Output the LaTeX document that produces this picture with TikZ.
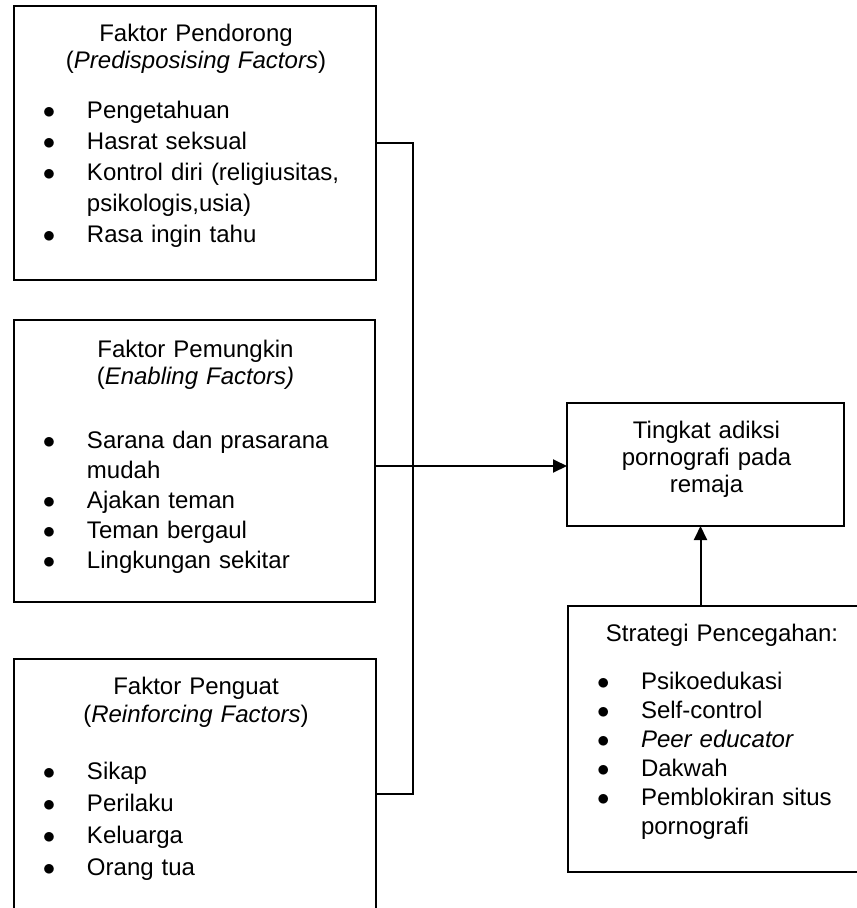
\documentclass[tikz,border=0pt]{standalone}
\usepackage{fontspec}
\setmainfont{Liberation Sans}
\usetikzlibrary{arrows.meta}

\newcommand{\judul}[1]{{\centering\rule{0pt}{20pt}#1\par}}
\newcommand{\jarak}[1]{\fontsize{24}{#1}\selectfont}
\newcommand{\butir}[1]{\par\noindent\hangindent=72pt\hangafter=1\makebox[72pt][l]{\hspace{28pt}$\bullet$}#1\par}

\begin{document}
\begin{tikzpicture}[
  x=1pt, y=1pt, line width=2pt,
  kotak/.style={draw,rectangle,inner sep=0pt,outer sep=0pt,anchor=north west},
  isi/.style={inner sep=0pt,anchor=north west,align=left,font=\jarak{27}},
  panah/.style={-{Triangle[length=14pt,width=13pt]}}
]
  \useasboundingbox (0,0) rectangle (857,-908);
  \clip (0,0) rectangle (857,-908);

  \node[kotak,minimum width=362pt,minimum height=274pt] (pendorong) at (14,-6) {};
  \node[kotak,minimum width=361pt,minimum height=282pt] (pemungkin) at (14,-320) {};
  \node[kotak,minimum width=362pt,minimum height=270pt] (penguat) at (14,-659) {};
  \node[kotak,minimum width=277pt,minimum height=123pt] (tingkat) at (567,-403) {};
  \node[kotak,minimum width=306pt,minimum height=266pt] (strategi) at (568,-606) {};

  \node[isi,text width=362pt] (pendorongIsi) at ([yshift=-14pt]pendorong.north west) {%
    \judul{Faktor Pendorong\\(\textit{Predisposising Factors})}\vspace{19pt}\jarak{31}%
    \butir{Pengetahuan}\butir{Hasrat seksual}%
    \butir{Kontrol diri (religiusitas,\newline psikologis,usia)}\butir{Rasa ingin tahu}};
  \node[isi,text width=361pt] (pemungkinIsi) at ([yshift=-16pt]pemungkin.north west) {%
    \judul{Faktor Pemungkin\\(\textit{Enabling Factors)}}\vspace{34pt}\jarak{30}%
    \butir{Sarana dan prasarana\newline mudah}\butir{Ajakan teman}%
    \butir{Teman bergaul}\butir{Lingkungan sekitar}};
  \node[isi,text width=362pt,font=\jarak{28}] (penguatIsi) at ([yshift=-14pt]penguat.north west) {%
    \judul{Faktor Penguat\\(\textit{Reinforcing Factors})}\vspace{25pt}\jarak{32}%
    \butir{Sikap}\butir{Perilaku}\butir{Keluarga}\butir{Orang tua}};
  \node[isi,text width=277pt] (tingkatIsi) at ([yshift=-14pt]tingkat.north west) {%
    \judul{Tingkat adiksi\\pornografi pada\\remaja}};
  \node[isi,text width=306pt] (strategiIsi) at ([yshift=-14pt]strategi.north west) {%
    \judul{Strategi Pencegahan:}\vspace{19pt}\jarak{29}%
    \butir{Psikoedukasi}\butir{Self-control}\butir{\textit{Peer educator}}%
    \butir{Dakwah}\butir{Pemblokiran situs\newline pornografi}};

  % penghubung
  \coordinate (panahKanan) at ([yshift=-5pt]pemungkin.east);
  \coordinate (panahAtas) at ([xshift=-5pt]tingkat.south);
  \draw (pendorong.east) -- ++(37,0) |- (penguat.east);
  \draw[panah] (panahKanan) -- (panahKanan -| tingkat.west);
  \draw[panah] (panahAtas |- strategi.north) -- (panahAtas);
\end{tikzpicture}
\end{document}
